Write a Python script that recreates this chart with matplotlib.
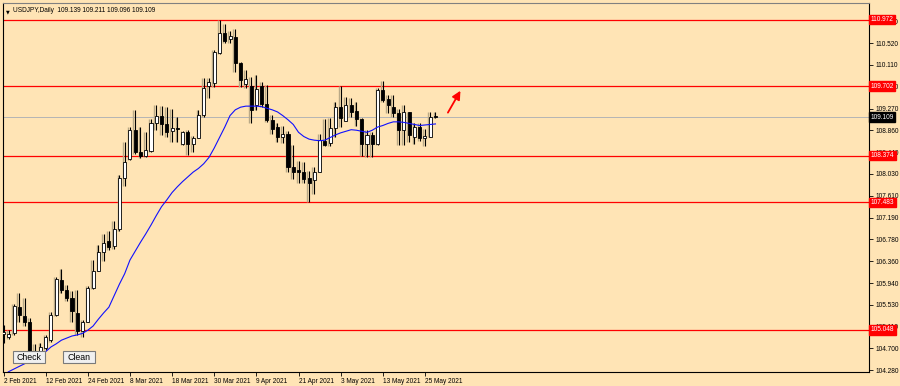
import matplotlib
matplotlib.use("Agg")
import matplotlib.pyplot as plt
import matplotlib.transforms as mtransforms
from matplotlib.patches import Rectangle
import pandas as pd

plt.rcParams["font.family"] = ["Liberation Sans", "DejaVu Sans"]

# daily bars, 2 Feb 2021 .. 27 May 2021
opens = [104.97, 104.91, 104.98, 105.49, 105.32, 105.19, 104.60, 104.57, 104.70, 104.86,
         105.34, 106.00, 105.81, 105.65, 105.37, 105.02, 105.20, 105.85, 106.18, 106.53,
         106.74, 106.65, 106.98, 107.95, 108.31, 108.86, 108.45, 108.37, 108.47, 109.00,
         109.13, 108.97, 108.84, 108.91, 108.60, 108.82, 108.60, 108.72, 109.15, 109.70,
         109.76, 110.34, 110.72, 110.60, 110.64, 110.15, 109.74, 109.70, 109.34, 109.70,
         109.37, 109.05, 108.92, 108.74, 108.79, 108.15, 108.10, 108.06, 107.94, 107.91,
         108.07, 108.66, 108.62, 108.91, 109.30, 109.04, 109.34, 109.22, 109.08, 108.60,
         108.77, 108.60, 109.63, 109.45, 109.31, 109.18, 108.86, 109.20, 108.73, 108.92,
         108.71, 108.74, 109.139]
highs = [105.14, 105.05, 105.55, 105.75, 105.66, 105.28, 104.78, 104.80, 104.95, 105.39,
         106.05, 106.20, 105.91, 105.78, 105.81, 105.23, 105.88, 106.39, 106.66, 106.87,
         106.93, 107.12, 108.00, 108.63, 108.92, 109.24, 108.92, 108.82, 109.07, 109.35,
         109.32, 109.31, 109.27, 109.11, 108.85, 108.86, 108.75, 109.24, 109.85, 109.86,
         110.40, 110.972, 110.88, 110.75, 110.79, 110.17, 110.01, 109.88, 109.91, 109.79,
         109.72, 109.15, 108.99, 108.95, 108.84, 108.57, 108.28, 108.25, 108.09, 108.15,
         108.79, 109.07, 109.10, 109.40, 109.702, 109.50, 109.47, 109.40, 109.10, 108.86,
         108.83, 109.66, 109.80, 109.53, 109.53, 109.27, 109.34, 109.21, 108.99, 108.99,
         108.89, 109.20, 109.211]
lows = [104.80, 104.88, 104.95, 105.20, 105.13, 104.55, 104.48, 104.52, 104.66, 104.82,
        105.31, 105.75, 105.59, 105.20, 104.95, 104.91, 105.19, 105.83, 106.17, 106.36,
        106.58, 106.59, 106.93, 107.80, 108.30, 108.41, 108.32, 108.34, 108.45, 108.86,
        108.76, 108.73, 108.63, 108.63, 108.57, 108.39, 108.44, 108.71, 109.11, 109.47,
        109.69, 110.31, 110.52, 110.52, 109.98, 109.69, 109.66, 108.99, 109.24, 109.30,
        109.02, 108.79, 108.63, 108.61, 108.06, 107.93, 107.86, 107.86, 107.483, 107.64,
        108.06, 108.55, 108.55, 108.73, 108.92, 109.03, 109.11, 108.95, 108.374, 108.34,
        108.34, 108.57, 109.40, 109.18, 109.11, 108.57, 108.57, 108.63, 108.60, 108.66,
        108.55, 108.73, 109.096]
closes = [105.00, 104.96, 105.50, 105.33, 105.19, 104.60, 104.56, 104.72, 104.91, 105.33,
          106.01, 105.81, 105.65, 105.41, 105.03, 105.20, 105.84, 106.18, 106.53, 106.71,
          106.63, 106.97, 107.95, 108.25, 108.86, 108.44, 108.37, 108.48, 109.00, 109.13,
          108.97, 108.83, 108.90, 108.89, 108.82, 108.60, 108.71, 109.16, 109.67, 109.79,
          110.35, 110.72, 110.57, 110.66, 110.15, 109.82, 109.83, 109.24, 109.64, 109.37,
          109.05, 108.89, 108.74, 108.79, 108.15, 108.07, 108.06, 107.93, 107.86, 108.07,
          108.68, 108.57, 108.91, 109.30, 109.10, 109.34, 109.21, 109.08, 108.60, 108.77,
          108.60, 109.63, 109.43, 109.34, 109.18, 108.86, 109.20, 108.76, 108.92, 108.71,
          108.75, 109.11, 109.109]
# blue moving average
ma = [104.18, 104.25, 104.30, 104.35, 104.40, 104.45, 104.50, 104.56, 104.63, 104.72,
      104.78, 104.85, 104.89, 104.93, 104.95, 104.98, 105.04, 105.12, 105.25, 105.37,
      105.48, 105.70, 105.92, 106.12, 106.38, 106.55, 106.72, 106.88, 107.05, 107.23,
      107.40, 107.53, 107.67, 107.78, 107.88, 107.97, 108.06, 108.13, 108.22, 108.34,
      108.52, 108.72, 108.92, 109.14, 109.25, 109.30, 109.32, 109.32, 109.32, 109.31,
      109.28, 109.25, 109.21, 109.14, 109.06, 108.97, 108.82, 108.74, 108.69, 108.67,
      108.66, 108.67, 108.72, 108.77, 108.81, 108.84, 108.87, 108.86, 108.84, 108.82,
      108.86, 108.92, 108.95, 108.99, 109.02, 109.02, 109.01, 108.99, 108.97, 108.95,
      108.96, 108.97, 108.98]

dates = pd.bdate_range("2021-02-02", periods=len(closes))
levels = [110.972, 109.702, 108.374, 107.483, 105.048]
price_ticks = [104.280, 104.700, 105.110, 105.530, 105.940, 106.360, 106.780, 107.190,
               107.610, 108.030, 108.440, 108.860, 109.270, 109.690, 110.110, 110.520, 110.940]
last_price = 109.109
title = "USDJPY,Daily  109.139 109.211 109.096 109.109"

bg = "#FFE4B5"
fs = 4.7
fig = plt.figure(figsize=(9, 3.86), dpi=100, facecolor=bg)
ax = fig.add_axes([3 / 900, 14 / 386, 866 / 900, 369 / 386], facecolor=bg)

x = list(range(len(closes)))
for i in x:
    o, h, l, c = opens[i], highs[i], lows[i], closes[i]
    # grey shadow bar beside each candle
    ax.vlines(i - 0.35, l, h, color="#b9a987", lw=1.0, zorder=2)
    ax.vlines(i, l, h, color="black", lw=0.8, zorder=3)
    fc = "white" if c >= o else "black"
    ax.bar(i, max(abs(c - o), 0.004), bottom=min(o, c), width=0.58, color=fc,
           edgecolor="black", linewidth=0.6, zorder=4)

ax.plot(x, ma, color="#1010ff", lw=0.8, zorder=5)

for lv in levels:
    ax.axhline(lv, color="red", lw=0.9, zorder=1)
ax.axhline(last_price, color="#b4b4b4", lw=0.7, zorder=1)

ax.set_xlim(-0.1, 164.3)
ax.set_ylim(104.242, 111.29)

ax.set_xticks(x[::8])
ax.set_xticklabels([f"{d.day} {d.strftime('%b %Y')}" for d in dates[::8]],
                   ha="left", fontsize=fs)
ax.tick_params(axis="x", length=3, width=0.6, pad=1.5)
ax.yaxis.tick_right()
ax.set_yticks(price_ticks)
ax.set_yticklabels([f"{v:.3f}" for v in price_ticks], fontsize=fs)
ax.tick_params(axis="y", length=3, width=0.6, pad=1.5)

for s in ["left", "right", "bottom"]:
    ax.spines[s].set_color("black")
    ax.spines[s].set_linewidth(0.8)
ax.spines["top"].set_color("#808080")
ax.spines["top"].set_linewidth(0.8)

# level tags on the price scale
tr = mtransforms.blended_transform_factory(ax.transAxes, ax.transData)
for lv in levels:
    ax.text(1.002, lv, f"{lv:.3f}", transform=tr, fontsize=fs, color="white",
            va="center", ha="left", zorder=10, clip_on=False,
            bbox=dict(boxstyle="square,pad=0.2", fc="red", ec="red"))
ax.text(1.002, last_price, f"{last_price:.3f}", transform=tr, fontsize=fs, color="white",
        va="center", ha="left", zorder=10, clip_on=False,
        bbox=dict(boxstyle="square,pad=0.2", fc="black", ec="black"))

# title
ax.text(0.003, 0.984, "\u25bc", transform=ax.transAxes, fontsize=3.5, va="top", ha="left",
        family="DejaVu Sans")
ax.text(0.012, 0.988, title, transform=ax.transAxes, fontsize=fs, va="top", ha="left")

# arrow
ax.annotate("", xy=(87.0, 109.66), xytext=(84.1, 109.15),
            arrowprops=dict(arrowstyle="-|>,head_length=0.5,head_width=0.25",
                            color="red", lw=1.3))

# buttons
for label, x0 in [("Check", 13), ("Clean", 63)]:
    fig.patches.append(Rectangle((x0 / 900, 1 - 363 / 386), 32 / 900, 12 / 386,
                                 transform=fig.transFigure, fc="#f0f0f0",
                                 ec="#7a7a7a", lw=0.8, zorder=20))
    fig.text((x0 + 16) / 900, 1 - 357 / 386, label, ha="center", va="center",
             fontsize=6.3, color="black", zorder=21)

fig.savefig("out.png", dpi=100, facecolor=bg)
